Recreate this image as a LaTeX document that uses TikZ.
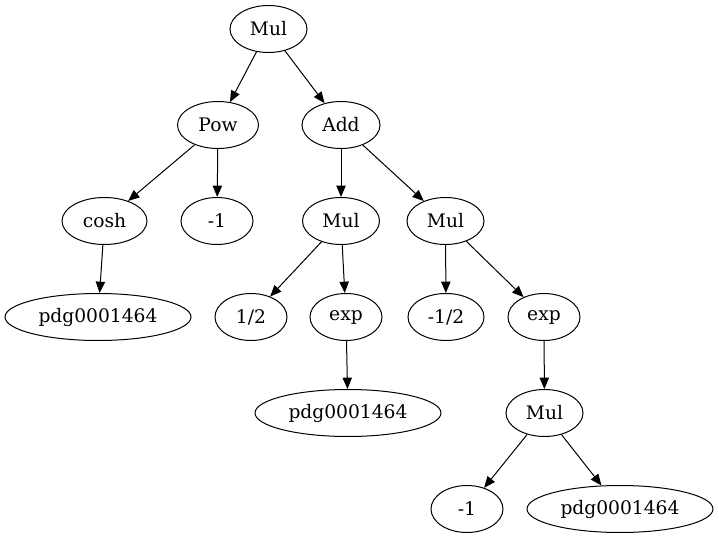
\documentclass[tikz,border=0pt]{standalone}
\usepackage{fontspec}
\setmainfont{DejaVu Serif}
\usetikzlibrary{shapes.geometric,arrows.meta}
\tikzset{
  op/.style={ellipse, draw=black, line width=0.75pt, minimum height=35.25pt, minimum width=54pt, inner sep=0pt, font=\fontsize{14pt}{16pt}\selectfont},
  edge/.style={-{Triangle[length=8.5pt,width=7pt]}, line width=0.75pt}
}
\begin{document}
\begin{tikzpicture}[x=0.75pt,y=-0.75pt]
            \useasboundingbox (0,0) rectangle (719,539);
            \node (mulA) at (268.5,29) [op, minimum width=57.75pt] {Mul};
            \node (pow) at (218,125) [op, minimum width=60.75pt] {Pow};
            \node (add) at (341,125) [op, minimum width=58.5pt] {Add};
            \node (cosh) at (104.5,221) [op, minimum width=63.75pt] {cosh};
            \node (negA) at (217,221) [op] {-1};
            \node (mulB) at (341,221) [op, minimum width=57.75pt] {Mul};
            \node (mulC) at (445.5,221) [op, minimum width=57.75pt] {Mul};
            \node (pdgA) at (98,317) [op, minimum width=139.5pt] {pdg0001464};
            \node (half) at (251,317) [op] {1/2};
            \node (expA) at (346,317) [op] {exp};
            \node (nhalf) at (446,317) [op, minimum width=57pt] {-1/2};
            \node (expB) at (544,317) [op] {exp};
            \node (pdgB) at (348,413) [op, minimum width=139.5pt] {pdg0001464};
            \node (mulD) at (544.5,413) [op, minimum width=57.75pt] {Mul};
            \node (negB) at (467,509) [op] {-1};
            \node (pdgC) at (620,509) [op, minimum width=139.5pt] {pdg0001464};
            \draw [edge] (mulA) -- (pow);
            \draw [edge] (mulA) -- (add);
            \draw [edge] (pow) -- (cosh);
            \draw [edge] (pow) -- (negA);
            \draw [edge] (cosh) -- (pdgA);
            \draw [edge] (add) -- (mulB);
            \draw [edge] (add) -- (mulC);
            \draw [edge] (mulB) -- (half);
            \draw [edge] (mulB) -- (expA);
            \draw [edge] (expA) -- (pdgB);
            \draw [edge] (mulC) -- (nhalf);
            \draw [edge] (mulC) -- (expB);
            \draw [edge] (expB) -- (mulD);
            \draw [edge] (mulD) -- (negB);
            \draw [edge] (mulD) -- (pdgC);
        \end{tikzpicture}
\end{document}
